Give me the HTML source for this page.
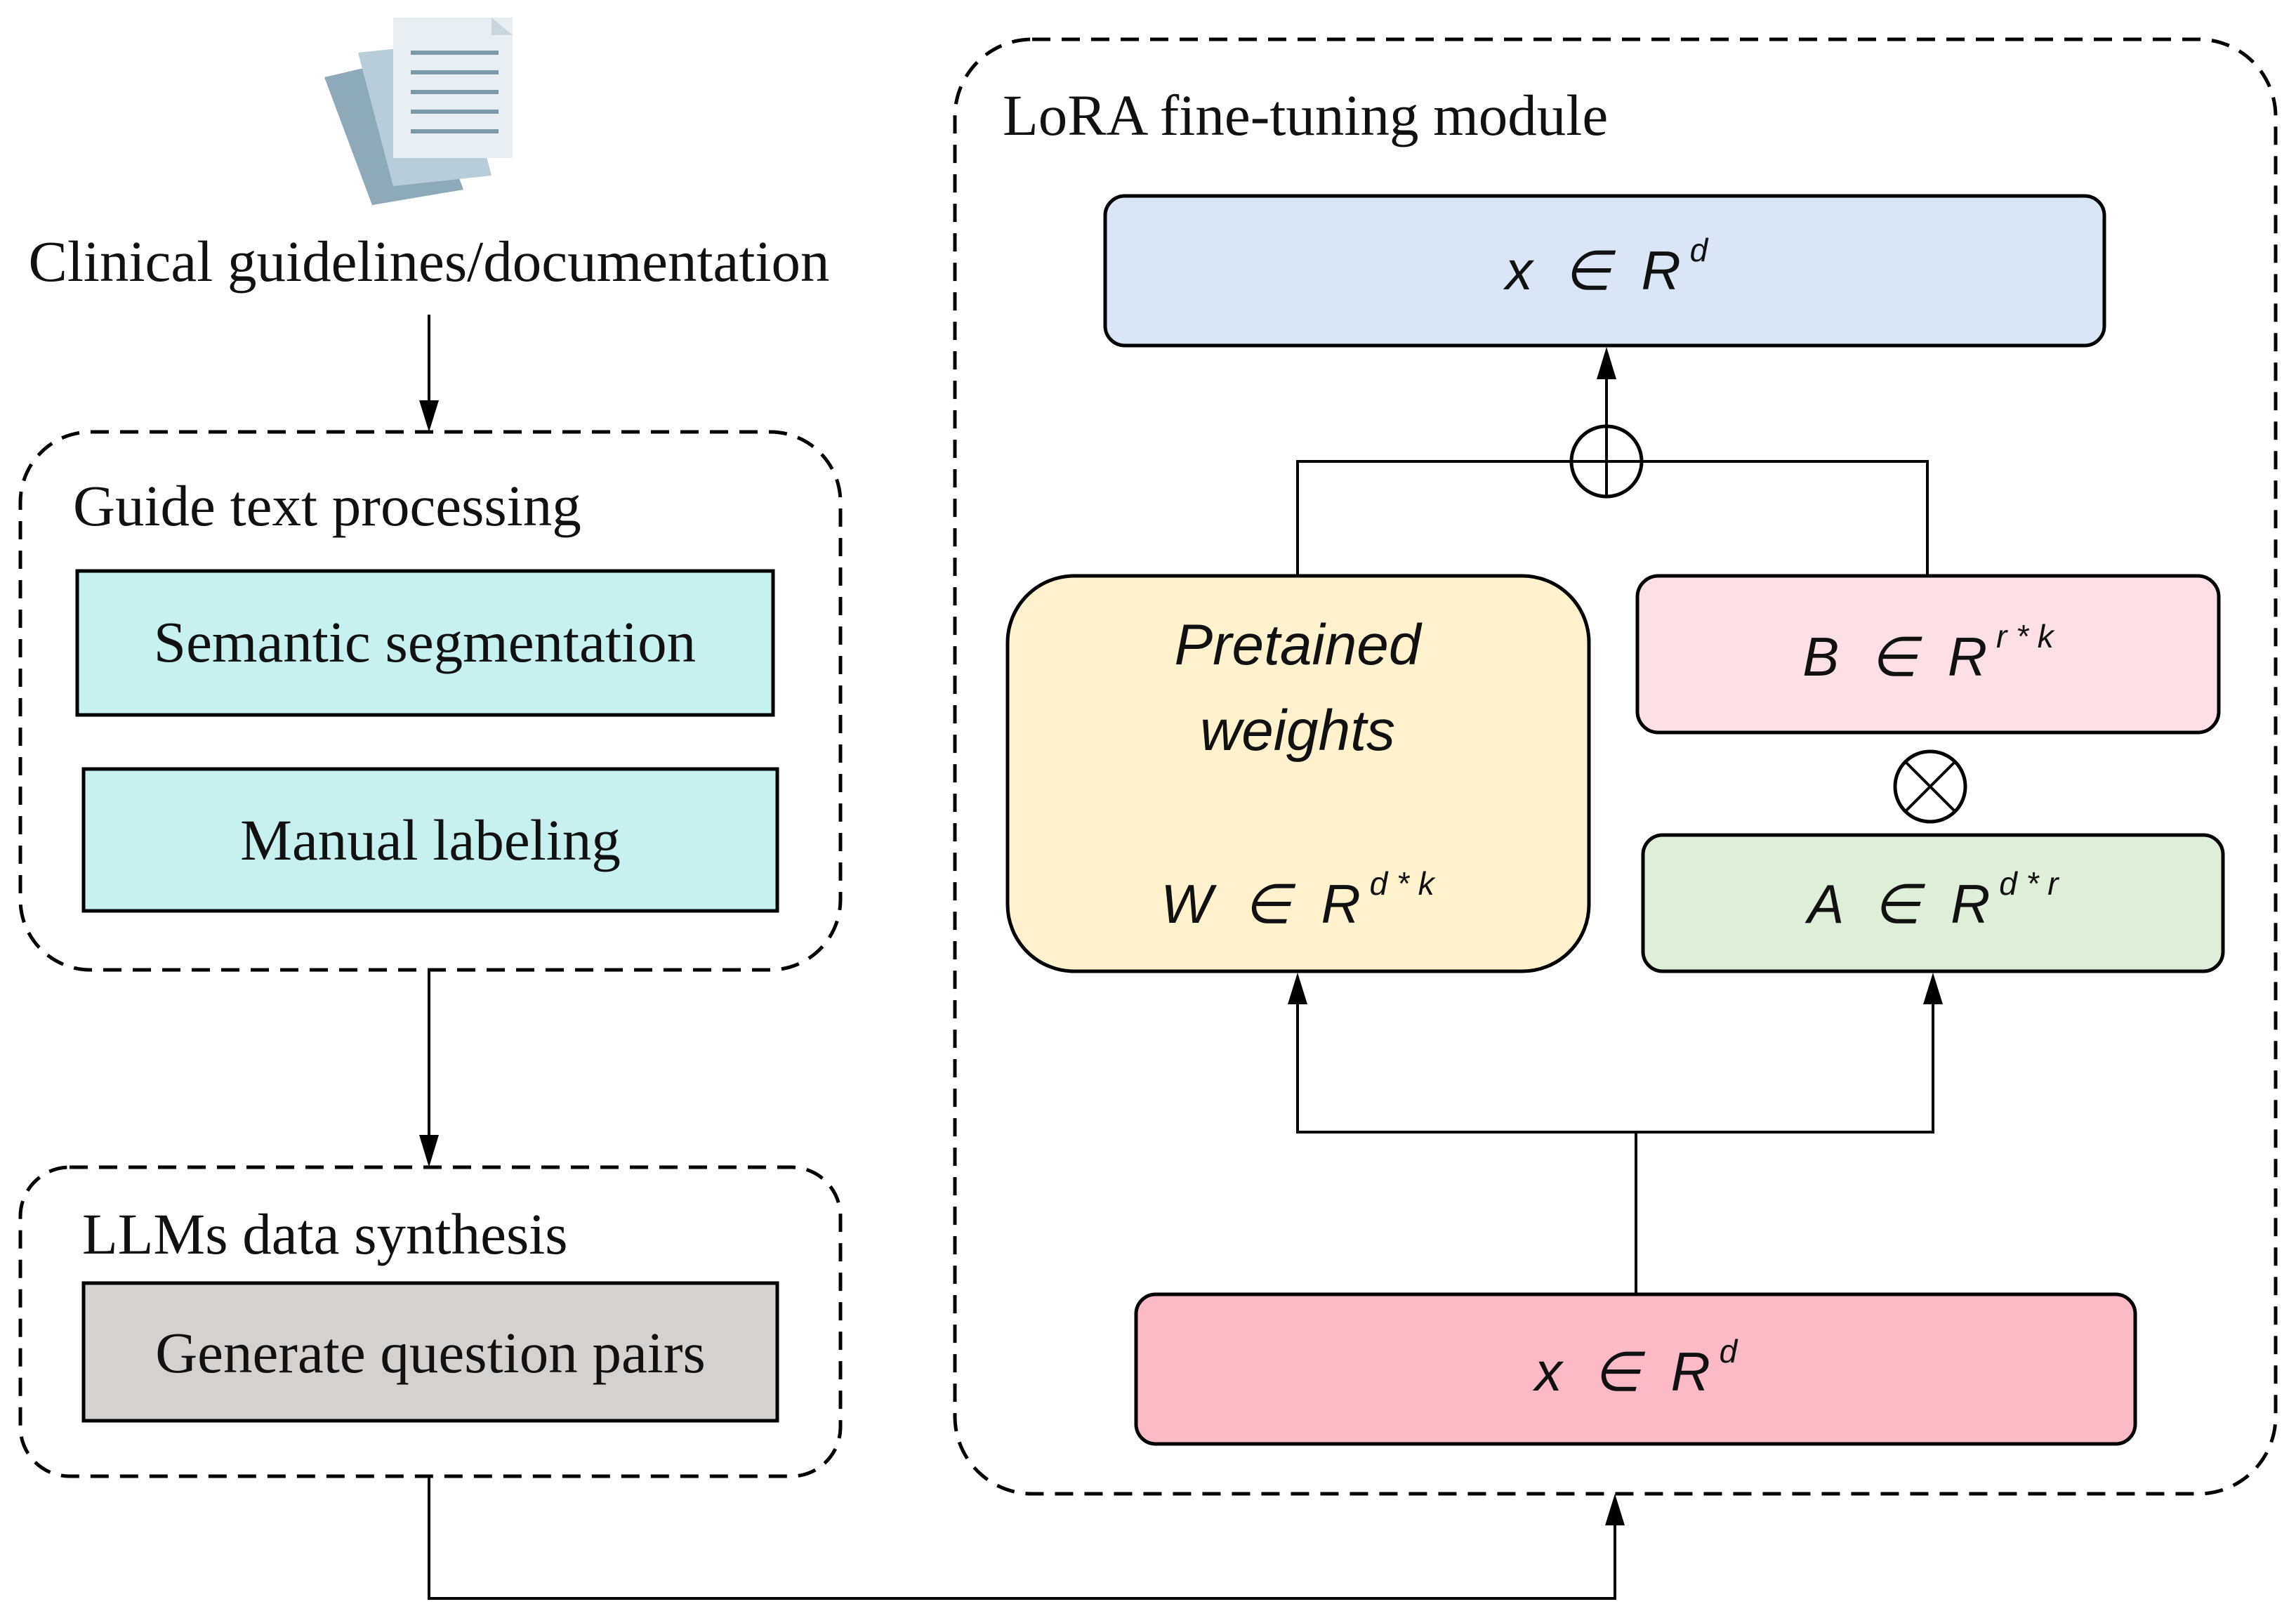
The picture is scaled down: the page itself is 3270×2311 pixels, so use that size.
<!DOCTYPE html>
<html><head><meta charset="utf-8"><style>
html,body{margin:0;padding:0;background:#fff;}
svg{display:block;}
.serif{font-family:"Liberation Serif",serif;fill:#111;}
.sans{font-family:"Liberation Sans",sans-serif;font-style:italic;fill:#111;}
</style></head><body>
<svg width="3270" height="2311" viewBox="0 0 3270 2311" xmlns="http://www.w3.org/2000/svg">
<rect width="3270" height="2311" fill="#fff"/>

<!-- document icon -->
<g>
<polygon points="462,110 590,80 660,270 530,292" fill="#8ea9b8"/>
<polygon points="510,75 650,60 700,250 560,265" fill="#b9cdd8"/>
<rect x="560" y="25" width="170" height="200" fill="#e8eef2"/>
<polygon points="700,25 730,50 700,50" fill="#c9d6de"/>
<g stroke="#7d98a6" stroke-width="6">
<line x1="585" y1="75" x2="710" y2="75"/>
<line x1="585" y1="103" x2="710" y2="103"/>
<line x1="585" y1="131" x2="710" y2="131"/>
<line x1="585" y1="159" x2="710" y2="159"/>
<line x1="585" y1="187" x2="710" y2="187"/>
</g>
</g>
<text class="serif" x="611" y="400" font-size="83" text-anchor="middle">Clinical guidelines/documentation</text>

<!-- arrows left -->
<line x1="611" y1="448" x2="611" y2="575" stroke="#000" stroke-width="4"/>
<polygon points="597,570 625,570 611,615" fill="#000"/>
<line x1="611" y1="1381" x2="611" y2="1620" stroke="#000" stroke-width="4"/>
<polygon points="597,1616 625,1616 611,1662" fill="#000"/>

<!-- Guide box -->
<rect x="29" y="615" width="1168" height="766" rx="100" fill="none" stroke="#000" stroke-width="5" stroke-dasharray="26,16"/>
<text class="serif" x="104" y="748" font-size="83">Guide text processing</text>
<rect x="110" y="813" width="991" height="205" fill="#c6f1ef" stroke="#000" stroke-width="5"/>
<text class="serif" x="605" y="942" font-size="83" text-anchor="middle">Semantic segmentation</text>
<rect x="119" y="1095" width="988" height="202" fill="#c6f1ef" stroke="#000" stroke-width="5"/>
<text class="serif" x="613" y="1224" font-size="83" text-anchor="middle">Manual labeling</text>

<!-- LLMs box -->
<rect x="29" y="1662" width="1168" height="440" rx="70" fill="none" stroke="#000" stroke-width="5" stroke-dasharray="26,16"/>
<text class="serif" x="117" y="1785" font-size="83">LLMs data synthesis</text>
<rect x="119" y="1827" width="988" height="196" fill="#d4d1d1" stroke="#000" stroke-width="5"/>
<text class="serif" x="613" y="1954" font-size="83" text-anchor="middle">Generate question pairs</text>

<!-- bottom connector -->
<polyline points="611,2102 611,2276 2300,2276 2300,2150" fill="none" stroke="#000" stroke-width="4"/>
<polygon points="2286,2172 2314,2172 2300,2127" fill="#000"/>

<!-- LoRA box -->
<rect x="1360" y="56" width="1881" height="2071" rx="110" fill="none" stroke="#000" stroke-width="5" stroke-dasharray="26,16"/>
<text class="serif" x="1428" y="192" font-size="83">LoRA fine-tuning module</text>

<!-- top blue -->
<rect x="1574" y="279" width="1423" height="213" rx="28" fill="#dae6f6" stroke="#000" stroke-width="5"/>
<text class="sans" x="2288" y="412" font-size="78" text-anchor="middle" xml:space="preserve">x  ∈  R<tspan font-size="46" dy="-40"> d</tspan></text>

<!-- plus circle and lines -->
<polyline points="1848,820 1848,657 2745,657 2745,820" fill="none" stroke="#000" stroke-width="4"/>
<circle cx="2288" cy="657" r="50" fill="#fff" stroke="#000" stroke-width="5"/>
<line x1="2238" y1="657" x2="2338" y2="657" stroke="#000" stroke-width="4"/>
<line x1="2288" y1="607" x2="2288" y2="707" stroke="#000" stroke-width="4"/>
<line x1="2288" y1="607" x2="2288" y2="530" stroke="#000" stroke-width="4"/>
<polygon points="2274,540 2302,540 2288,494" fill="#000"/>

<!-- Pretrained -->
<rect x="1435" y="820" width="828" height="563" rx="95" fill="#fff2cc" stroke="#000" stroke-width="5"/>
<text class="sans" x="1848" y="946" font-size="82" text-anchor="middle">Pretained</text>
<text class="sans" x="1848" y="1068" font-size="82" text-anchor="middle">weights</text>
<text class="sans" x="1848" y="1314" font-size="78" text-anchor="middle" xml:space="preserve">W  ∈  R<tspan font-size="46" dy="-40"> d * k</tspan></text>

<!-- B -->
<rect x="2332" y="820" width="828" height="223" rx="30" fill="#fde0e6" stroke="#000" stroke-width="5"/>
<text class="sans" x="2746" y="962" font-size="78" text-anchor="middle" xml:space="preserve">B  ∈  R<tspan font-size="46" dy="-40"> r * k</tspan></text>

<!-- otimes -->
<circle cx="2749" cy="1120" r="50" fill="#fff" stroke="#000" stroke-width="5"/>
<line x1="2714" y1="1085" x2="2784" y2="1155" stroke="#000" stroke-width="4"/>
<line x1="2784" y1="1085" x2="2714" y2="1155" stroke="#000" stroke-width="4"/>

<!-- A -->
<rect x="2340" y="1189" width="826" height="194" rx="28" fill="#dfeed8" stroke="#000" stroke-width="5"/>
<text class="sans" x="2753" y="1314" font-size="78" text-anchor="middle" xml:space="preserve">A  ∈  R<tspan font-size="46" dy="-40"> d * r</tspan></text>

<!-- lower connectors -->
<polyline points="1848,1430 1848,1612 2753,1612 2753,1430" fill="none" stroke="#000" stroke-width="4"/>
<polygon points="1834,1430 1862,1430 1848,1385" fill="#000"/>
<polygon points="2739,1430 2767,1430 2753,1385" fill="#000"/>
<line x1="2330" y1="1612" x2="2330" y2="1843" stroke="#000" stroke-width="4"/>

<!-- bottom pink -->
<rect x="1618" y="1843" width="1423" height="213" rx="28" fill="#fcb9c6" stroke="#000" stroke-width="5"/>
<text class="sans" x="2330" y="1980" font-size="78" text-anchor="middle" xml:space="preserve">x  ∈  R<tspan font-size="46" dy="-40"> d</tspan></text>
</svg>
</body></html>
